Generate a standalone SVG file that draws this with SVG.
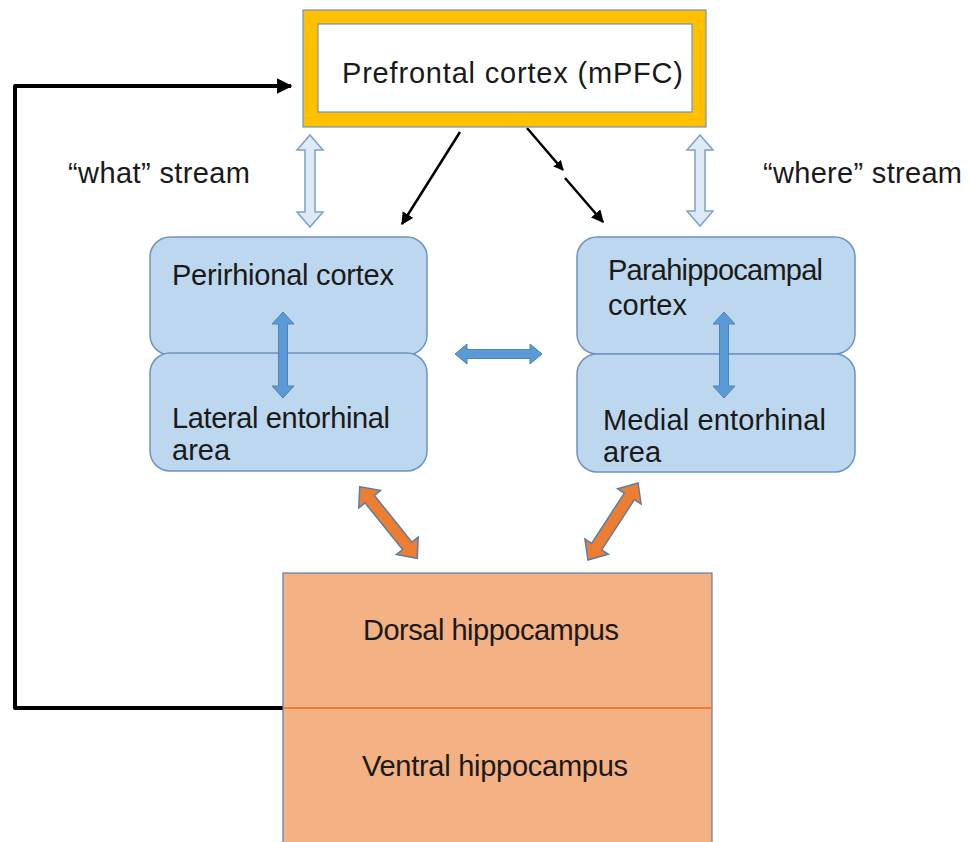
<svg xmlns="http://www.w3.org/2000/svg" width="970" height="842" viewBox="0 0 970 842">
<style>
text{font-family:"Liberation Sans",Arial,sans-serif;font-size:29px;fill:#1a1a1a}
.box{fill:#BDD7EE;stroke:#6E93C2;stroke-width:1.5}
.hollow{fill:#DEEBF7;stroke:#7DA1C8;stroke-width:1.5}
.blue{fill:#5B9BD5;stroke:#4F82B8;stroke-width:1}
.orng{fill:#ED7D31;stroke:#5A7FA8;stroke-width:1.5}
.blk{fill:none;stroke:#000}
</style>
<defs>
<marker id="ah" viewBox="0 0 10 10" refX="9" refY="5" markerWidth="5" markerHeight="5" orient="auto" markerUnits="strokeWidth">
<path d="M0,0 L10,5 L0,10 z" fill="#000"/>
</marker>
<marker id="ah2" viewBox="0 0 10 10" refX="9" refY="5" markerWidth="4" markerHeight="4" orient="auto" markerUnits="strokeWidth">
<path d="M0,0 L10,5 L0,10 z" fill="#000"/>
</marker>
<path id="dblO" d="M-46,0 L-30,-14 L-30,-6 L30,-6 L30,-14 L46,0 L30,14 L30,6 L-30,6 L-30,14 z"/>
</defs>

<g id="connectors">
<polyline class="blk" points="283,708 15,708 15,86 291,86" stroke-width="4" stroke-linejoin="round" marker-end="url(#ah2)"/>
<line class="blk" stroke-width="2.5" x1="460" y1="132" x2="402" y2="224" marker-end="url(#ah)"/>
<line class="blk" stroke-width="2.5" x1="527" y1="128" x2="563" y2="170" marker-end="url(#ah2)"/>
<line class="blk" stroke-width="2.5" x1="565" y1="178" x2="603" y2="222" marker-end="url(#ah)"/>
<polygon class="hollow" points="310,135 323,150 315,150 315,212 323,212 310,227 297,212 305,212 305,150 297,150"/>
<polygon class="hollow" points="700,135 713,150 705,150 705,211 713,211 700,226 687,211 695,211 695,150 687,150"/>
</g>

<g id="mpfc">
<rect x="303" y="10" width="403" height="117" fill="#FFC000" stroke="#6E93C2" stroke-width="1.2"/>
<rect x="318" y="24" width="374" height="88" fill="#fff" stroke="#6E93C2" stroke-width="1.2"/>
<text x="342" y="83" font-size="30" textLength="341">Prefrontal cortex (mPFC)</text>
</g>

<g id="labels">
<text x="68" y="183" textLength="182">“what” stream</text>
<text x="763" y="183" textLength="199">“where” stream</text>
</g>

<g id="perirhinal">
<rect class="box" x="150" y="237" width="277" height="118" rx="20"/>
<text x="172" y="285" textLength="222">Perirhional cortex</text>
</g>
<g id="lateral-entorhinal">
<rect class="box" x="150" y="353" width="277" height="118" rx="20"/>
<text x="172" y="428" textLength="218">Lateral entorhinal</text>
<text x="172" y="460">area</text>
</g>
<g id="parahippocampal">
<rect class="box" x="577" y="237" width="278" height="117" rx="20"/>
<text x="608" y="280" textLength="215">Parahippocampal</text>
<text x="608" y="315">cortex</text>
</g>
<g id="medial-entorhinal">
<rect class="box" x="577" y="354" width="278" height="118" rx="20"/>
<text x="603" y="430" textLength="223">Medial entorhinal</text>
<text x="603" y="462">area</text>
</g>

<g id="inner-arrows">
<polygon class="blue" points="283,312 294,324 287.5,324 287.5,386 294,386 283,398 272,386 278.5,386 278.5,324 272,324"/>
<polygon class="blue" points="724,312 735,324 728.5,324 728.5,386 735,386 724,398 713,386 719.5,386 719.5,324 713,324"/>
<polygon class="blue" points="455,354 467,344 467,349.5 530,349.5 530,344 542,354 530,364 530,358.5 467,358.5 467,364"/>
<use href="#dblO" class="orng" transform="translate(388.5,522.5) rotate(51.2)"/>
<use href="#dblO" class="orng" transform="translate(613,521.5) rotate(123)"/>
</g>

<g id="hippocampus">
<rect x="283" y="573" width="429" height="280" fill="#F4B183" stroke="#5A7FA8" stroke-width="1.2"/>
<line x1="283" y1="708" x2="712" y2="708" stroke="#ED7D31" stroke-width="2"/>
<text x="363" y="640" textLength="256">Dorsal hippocampus</text>
<text x="362" y="776" textLength="266">Ventral hippocampus</text>
</g>
</svg>
